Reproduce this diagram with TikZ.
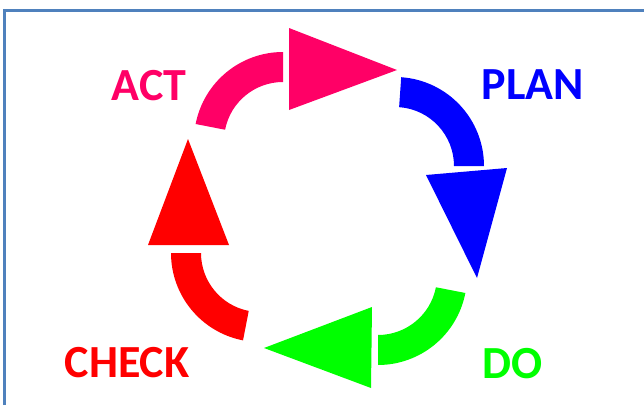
\documentclass[tikz,border=0pt]{standalone}
\usepackage{fontspec}
\setmainfont{Carlito}
\usetikzlibrary{calc}
\definecolor{actc}{HTML}{FF0066}
\definecolor{planc}{HTML}{0000FF}
\definecolor{doc}{HTML}{00FF00}
\definecolor{checkc}{HTML}{FF0000}
\definecolor{framec}{HTML}{4F81BD}
\tikzset{
  lbl/.style={font=\fontsize{34.5}{40}\selectfont\bfseries, anchor=base, inner sep=0pt},
  frameline/.style={draw=framec, line width=1.9pt},
}
% band: #1 center, #2 start angle, #3 end angle, #4 colour
\newcommand{\cycband}[4]{%
  \fill[#4] ($(#1)+(#2:59)$) arc[start angle=#2, end angle=#3, radius=59]
    -- ($(#1)+(#3:89)$) arc[start angle=#3, end angle=#2, radius=89] -- cycle;}
\begin{document}
\begin{tikzpicture}[x=0.75pt,y=0.75pt]
\fill[white] (0,0) rectangle (644,405);
% frame (cropped box)
\draw[frameline] (4.5,0) -- (4.5,394.5) -- (644,394.5);
% centres of the curved bands
\coordinate (cA) at (283,264);
\coordinate (cP) at (395,239);
\coordinate (cD) at (378,129);
\coordinate (cC) at (260,152);
% ACT
\cycband{cA}{169}{90}{actc}
\fill[actc] (289,377) -- (397,335) -- (289,295) -- cycle;
% PLAN
\cycband{cP}{86}{0}{planc}
\fill[planc] (426,230) -- (507,237) -- (477,127) -- cycle;
% DO
\cycband{cD}{-11}{-90}{doc}
\fill[doc] (372,98) -- (371,17) -- (264,57) -- cycle;
% CHECK
\cycband{cC}{259}{180}{checkc}
\fill[checkc] (148,160) -- (229,160) -- (188,266) -- cycle;
% labels
\node[lbl, text=actc] (act) at (149,305) {ACT};
\node[lbl, text=planc] (plan) at (533,306) {PLAN};
\node[lbl, text=doc] (do) at (512.5,27) {DO};
\node[lbl, text=checkc] (check) at (127,28) {CHECK};
\pgfresetboundingbox
\useasboundingbox (0,0) rectangle (644,405);
\end{tikzpicture}
\end{document}
